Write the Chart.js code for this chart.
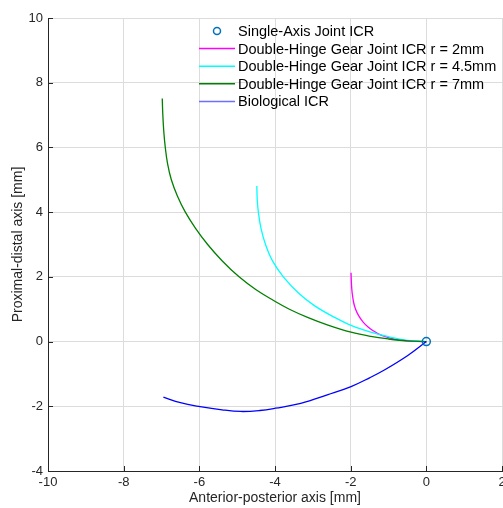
<!DOCTYPE html>
<html>
<head>
<meta charset="utf-8">
<script src="https://cdn.jsdelivr.net/npm/chart.js@4/dist/chart.umd.min.js"></script>
<style>
  html, body { margin: 0; padding: 0; background: #fff; }
  #wrap { width: 503px; height: 508px; }
</style>
</head>
<body>
<div id="wrap"><canvas id="myChart" width="503" height="508"></canvas></div>
<script>
// values
const xTicks = [-10, -8, -6, -4, -2, 0, 2];
const yTicks = [-4, -2, 0, 2, 4, 6, 8, 10];

const singleAxisX = [0];
const singleAxisY = [0];

const r2X = [-1.99, -1.98, -1.96, -1.92, -1.87, -1.79, -1.67, -1.54, -1.40, -1.27, -1.08, -0.90, -0.70, -0.48, -0.25, 0];
const r2Y = [2.13, 1.80, 1.50, 1.20, 1.00, 0.80, 0.60, 0.45, 0.33, 0.24, 0.15, 0.09, 0.045, 0.015, 0.003, 0];

const r45X = [-4.48, -4.47, -4.44, -4.37, -4.25, -4.07, -3.78, -3.38, -2.96, -2.43, -1.99, -1.47, -1.00, -0.49, 0];
const r45Y = [4.81, 4.40, 4.00, 3.50, 3.00, 2.50, 2.00, 1.50, 1.11, 0.75, 0.50, 0.29, 0.15, 0.04, 0];

const r7X = [-6.98, -6.965, -6.94, -6.90, -6.84, -6.74, -6.58, -6.37, -6.10, -5.78, -5.40, -4.95, -4.50, -4.04, -3.62, -3.14, -2.60, -1.99, -1.47, -1.00, -0.49, 0];
const r7Y = [7.51, 7.0, 6.5, 6.0, 5.5, 5.0, 4.5, 4.0, 3.5, 3.0, 2.5, 2.0, 1.6, 1.27, 1.0, 0.75, 0.51, 0.29, 0.16, 0.08, 0.02, 0];

const bioX = [-6.95, -6.50, -5.98, -5.40, -4.90, -4.40, -3.99, -3.32, -2.60, -1.99, -1.50, -1.11, -0.49, 0];
const bioY = [-1.72, -1.89, -2.01, -2.11, -2.16, -2.13, -2.06, -1.91, -1.64, -1.39, -1.12, -0.88, -0.43, 0];

const labels = [
  "Single-Axis Joint ICR",
  "Double-Hinge Gear Joint ICR r = 2mm",
  "Double-Hinge Gear Joint ICR r = 4.5mm",
  "Double-Hinge Gear Joint ICR r = 7mm",
  "Biological ICR",
];

const pts = (xs, ys) => xs.map((x, i) => ({ x: x, y: ys[i] }));
const FONT = "'Liberation Sans', Arial, Helvetica, sans-serif";

function lineSet(label, xs, ys, color) {
  return {
    label: label,
    data: pts(xs, ys),
    showLine: true,
    borderColor: color,
    backgroundColor: color,
    borderWidth: 1.3,
    pointRadius: 0,
    tension: 0.4,
    fill: false,
  };
}

// legend inside the plot, like the original
const insideLegend = {
  id: "insideLegend",
  afterDraw(chart) {
    const ctx = chart.ctx;
    const items = [
      { type: "marker", color: "#0072BD" },
      { type: "line", color: "#ff00ff" },
      { type: "line", color: "#00ffff" },
      { type: "line", color: "#008000" },
      { type: "line", color: "#6e6eff" },
    ];
    ctx.save();
    ctx.font = "14.5px " + FONT;
    ctx.textBaseline = "middle";
    ctx.textAlign = "left";
    items.forEach((it, i) => {
      const y = 31 + i * 17.6;
      if (it.type === "marker") {
        ctx.strokeStyle = it.color;
        ctx.lineWidth = 1.5;
        ctx.beginPath();
        ctx.arc(217, y, 3.5, 0, Math.PI * 2);
        ctx.stroke();
      } else {
        ctx.strokeStyle = it.color;
        ctx.lineWidth = 1.5;
        ctx.beginPath();
        ctx.moveTo(199, y);
        ctx.lineTo(235, y);
        ctx.stroke();
      }
      ctx.fillStyle = "#000";
      ctx.fillText(labels[i], 238, y + 1);
    });
    ctx.restore();
  },
};

// MATLAB style ticks pointing into the plot
const innerTicks = {
  id: "innerTicks",
  afterDraw(chart) {
    const ctx = chart.ctx;
    const xs = chart.scales.x, ys = chart.scales.y;
    const a = chart.chartArea;
    ctx.save();
    ctx.strokeStyle = "#262626";
    ctx.lineWidth = 1;
    ctx.beginPath();
    xTicks.forEach((v) => {
      const px = Math.round(xs.getPixelForValue(v)) + 0.5;
      ctx.moveTo(px, a.bottom);
      ctx.lineTo(px, a.bottom - 5);
    });
    yTicks.forEach((v) => {
      const py = Math.round(ys.getPixelForValue(v)) + 0.5;
      ctx.moveTo(a.left, py);
      ctx.lineTo(a.left + 5, py);
    });
    ctx.stroke();
    ctx.restore();
  },
};

const ctx = document.getElementById("myChart").getContext("2d");

const myChart = new Chart(ctx, {
  type: "scatter",
  data: {
    datasets: [
      {
        label: labels[0],
        data: pts(singleAxisX, singleAxisY),
        pointRadius: 4,
        pointBorderWidth: 1.5,
        pointBorderColor: "#0072BD",
        pointBackgroundColor: "rgba(0,0,0,0)",
        showLine: false,
      },
      lineSet(labels[4], bioX, bioY, "#0000ff"),
      lineSet(labels[3], r7X, r7Y, "#008000"),
      lineSet(labels[2], r45X, r45Y, "#00ffff"),
      lineSet(labels[1], r2X, r2Y, "#ff00ff"),
    ],
  },
  options: {
    responsive: false,
    animation: false,
    layout: { autoPadding: false, padding: { left: 0, right: 1, top: 18, bottom: 0 } },
    scales: {
      x: {
        type: "linear",
        min: -10,
        max: 2,
        afterBuildTicks: (scale) => {
          scale.ticks = xTicks.map((v) => ({ value: v }));
        },
        afterFit: (scale) => {
          scale.height = 37;
          scale.paddingLeft = 0;
          scale.paddingRight = 0;
        },
        grid: { color: "#dcdcdc", lineWidth: 1, drawTicks: false },
        border: { display: true, color: "#262626", width: 1 },
        ticks: {
          color: "#262626",
          padding: 4,
          maxRotation: 0,
          autoSkip: false,
          font: { size: 13, family: FONT },
        },
        title: {
          display: true,
          text: "Anterior-posterior axis [mm]",
          color: "#262626",
          padding: { top: 0, bottom: 1 },
          font: { size: 14, family: FONT },
        },
      },
      y: {
        type: "linear",
        min: -4,
        max: 10,
        afterBuildTicks: (scale) => {
          scale.ticks = yTicks.map((v) => ({ value: v }));
        },
        afterFit: (scale) => {
          scale.width = 48;
          scale.paddingTop = 0;
          scale.paddingBottom = 0;
        },
        grid: { color: "#dcdcdc", lineWidth: 1, drawTicks: false },
        border: { display: true, color: "#262626", width: 1 },
        ticks: {
          color: "#262626",
          padding: 5,
          autoSkip: false,
          font: { size: 13, family: FONT },
        },
        title: {
          display: true,
          text: "Proximal-distal axis [mm]",
          color: "#262626",
          padding: { top: 10, bottom: 0 },
          font: { size: 14, family: FONT },
        },
      },
    },
    plugins: {
      legend: { display: false },
      tooltip: { enabled: false },
    },
  },
  plugins: [innerTicks, insideLegend],
});
</script>
</body>
</html>
